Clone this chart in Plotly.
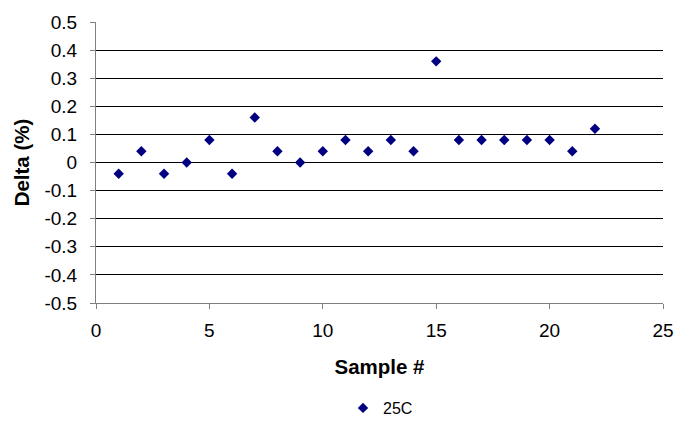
import plotly.graph_objects as go

samples = list(range(1, 23))
delta = [-0.04, 0.04, -0.04, 0.0, 0.08, -0.04, 0.16, 0.04, 0.0, 0.04, 0.08,
         0.04, 0.08, 0.04, 0.36, 0.08, 0.08, 0.08, 0.08, 0.08, 0.04, 0.12]
series_name = "25C"
y_tickvals = [0.5, 0.4, 0.3, 0.2, 0.1, 0, -0.1, -0.2, -0.3, -0.4, -0.5]
y_ticktext = ["0.5", "0.4", "0.3", "0.2", "0.1", "0", "-0.1", "-0.2", "-0.3", "-0.4", "-0.5"]
x_tickvals = [0, 5, 10, 15, 20, 25]

FONT = "Liberation Sans, Arial, sans-serif"

fig = go.Figure()
fig.add_trace(go.Scatter(
    x=samples, y=delta, mode="markers", name=series_name,
    marker=dict(symbol="diamond", size=8, color="#000080"),
    showlegend=True,
))

fig.update_layout(
    template="none",
    width=680, height=426,
    margin=dict(l=96, r=17, t=22, b=123),
    paper_bgcolor="white", plot_bgcolor="white",
    font=dict(family=FONT, size=18, color="black"),
    showlegend=True,
    legend=dict(orientation="h", xref="container", x=343 / 680, xanchor="left",
                yref="container", y=1 - 408 / 426, yanchor="middle",
                font=dict(family=FONT, size=16, color="black"),
                bgcolor="rgba(0,0,0,0)", itemwidth=30),
    xaxis=dict(range=[0, 25], tickvals=x_tickvals, showgrid=False,
               showline=True, linecolor="#808080", linewidth=1,
               ticks="outside", ticklen=5, tickcolor="#808080",
               zeroline=False, automargin=False, ticklabelstandoff=5,
               title=dict(text="<b>Sample #</b>", font=dict(family=FONT, size=20.5), standoff=19),
               tickfont=dict(family=FONT, size=19)),
    yaxis=dict(range=[-0.5, 0.5], tickvals=y_tickvals, ticktext=y_ticktext,
               showgrid=True, gridcolor="#000000", gridwidth=1,
               showline=True, linecolor="#808080", linewidth=1,
               ticks="outside", ticklen=5, tickcolor="#808080",
               zeroline=False, automargin=False, ticklabelstandoff=9,
               title=dict(text="<b>Delta (%)</b>", font=dict(family=FONT, size=20.5), standoff=9),
               tickfont=dict(family=FONT, size=19)),
)

fig.write_html("out.html")
